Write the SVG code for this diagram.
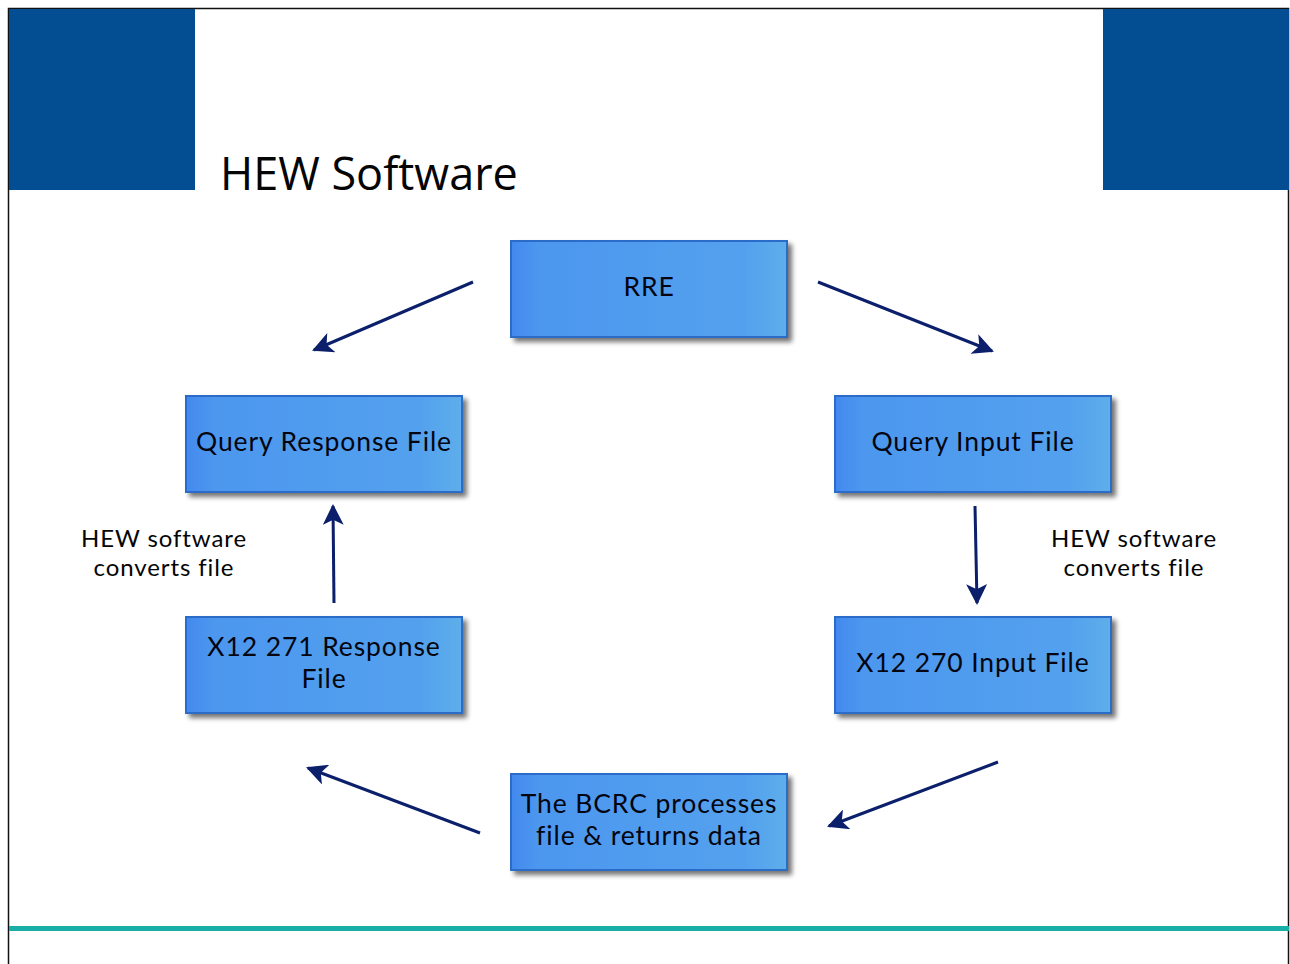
<svg xmlns="http://www.w3.org/2000/svg" width="1290" height="964" viewBox="0 0 1290 964">
<defs>
<linearGradient id="bg" x1="0" y1="0" x2="1" y2="0">
<stop offset="0" stop-color="#4289ee"/>
<stop offset="0.1" stop-color="#4d97ef"/>
<stop offset="0.85" stop-color="#53a1ee"/>
<stop offset="1" stop-color="#5eaeea"/>
</linearGradient>
<filter id="sh" x="-10%" y="-10%" width="125%" height="130%">
<feGaussianBlur in="SourceAlpha" stdDeviation="2.5"/>
<feOffset dx="4" dy="4" result="b"/>
<feComponentTransfer><feFuncA type="linear" slope="0.55"/></feComponentTransfer>
<feMerge><feMergeNode/><feMergeNode in="SourceGraphic"/></feMerge>
</filter>
<marker id="ah" viewBox="0 0 10 10" refX="9" refY="5" markerWidth="8" markerHeight="7" markerUnits="strokeWidth" orient="auto">
<path d="M0,0 L10,5 L0,10 L2.5,5 Z" fill="#0b1f6b"/>
</marker>
</defs>
<style>
.box{fill:url(#bg);stroke:#2c6cc8;stroke-width:2;filter:url(#sh)}
.t{font-family:Lato,"Open Sans",sans-serif;font-size:26.5px;letter-spacing:0.9px;fill:#050510;text-anchor:middle}
.lbl{font-family:Lato,"Open Sans",sans-serif;font-size:24px;letter-spacing:0.9px;fill:#050505;text-anchor:middle}
.c{stroke:#0b1f6b;stroke-width:3;fill:none;marker-end:url(#ah)}
</style>
<rect x="0" y="0" width="1290" height="964" fill="#ffffff"/>
<rect x="8.5" y="8.5" width="1280" height="960" fill="none" stroke="#111" stroke-width="1.5"/>
<rect x="9" y="9" width="186" height="181" fill="#034e93"/>
<rect x="1103" y="9" width="186" height="181" fill="#034e93"/>
<text x="220" y="190" font-family="Open Sans, Liberation Sans, sans-serif" font-size="45" fill="#050505">HEW Software</text>
<rect x="9" y="926" width="1280" height="5" fill="#1aaea8"/>
<g id="connectors">
<line class="c" x1="473" y1="282" x2="314" y2="350"/>
<line class="c" x1="818" y1="282" x2="992" y2="351"/>
<line class="c" x1="975" y1="506" x2="977" y2="603"/>
<line class="c" x1="334" y1="603" x2="333" y2="506"/>
<line class="c" x1="998" y1="762" x2="829" y2="826"/>
<line class="c" x1="480" y1="833" x2="308" y2="768"/>
</g>
<g id="rre"><rect class="box" x="511" y="241" width="276" height="96"/><text class="t" x="649" y="296">RRE</text></g>
<g id="qrf"><rect class="box" x="186" y="396" width="276" height="96"/><text class="t" x="324" y="451">Query Response File</text></g>
<g id="qif"><rect class="box" x="835" y="396" width="276" height="96"/><text class="t" x="973" y="451">Query Input File</text></g>
<g id="x271"><rect class="box" x="186" y="617" width="276" height="96"/><text class="t" x="324" y="656">X12 271 Response</text><text class="t" x="324" y="688">File</text></g>
<g id="x270"><rect class="box" x="835" y="617" width="276" height="96"/><text class="t" x="973" y="672">X12 270 Input File</text></g>
<g id="bcrc"><rect class="box" x="511" y="774" width="276" height="96"/><text class="t" x="649" y="813">The BCRC processes</text><text class="t" x="649" y="845">file &amp; returns data</text></g>
<g id="lbl-left"><text class="lbl" x="164" y="547">HEW software</text><text class="lbl" x="164" y="576">converts file</text></g>
<g id="lbl-right"><text class="lbl" x="1134" y="547">HEW software</text><text class="lbl" x="1134" y="576">converts file</text></g>
</svg>
